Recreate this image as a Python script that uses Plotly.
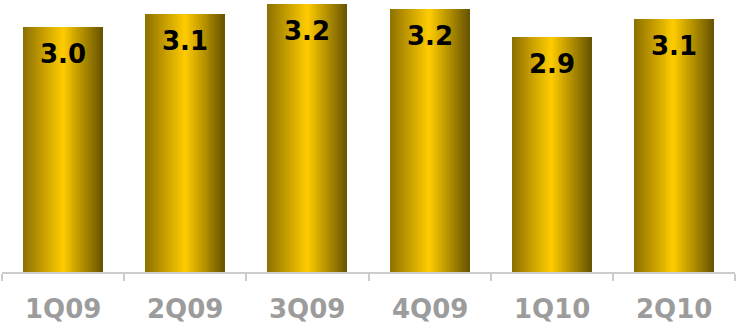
import plotly.graph_objects as go

# ---- data ----
quarters = ["1Q09", "2Q09", "3Q09", "4Q09", "1Q10", "2Q10"]
values = [2.99, 3.15, 3.27, 3.21, 2.87, 3.09]
labels = ["3.0", "3.1", "3.2", "3.2", "2.9", "3.1"]

# ---- style ----
BAR_W = 0.648
N_SLICES = 80
stops = [(0.0, (140, 112, 0)), (0.5, (255, 204, 0)), (1.0, (104, 84, 0))]


def grad(t):
    for (t0, c0), (t1, c1) in zip(stops[:-1], stops[1:]):
        if t0 <= t <= t1:
            f = (t - t0) / (t1 - t0)
            return "rgb(%d,%d,%d)" % tuple(round(a + (b - a) * f) for a, b in zip(c0, c1))
    return "rgb(%d,%d,%d)" % stops[-1][1]


fig = go.Figure()
step = BAR_W / N_SLICES
for i in range(N_SLICES):
    t = (i + 0.5) / N_SLICES
    w = step * (2 if i < N_SLICES - 1 else 1)
    fig.add_trace(go.Bar(
        x=quarters, y=values,
        offset=-BAR_W / 2 + i * step, width=w,
        marker=dict(color=grad(t), line=dict(width=0)),
        hoverinfo="skip", showlegend=False,
    ))

# value labels inside bars
for q, v, lab in zip(quarters, values, labels):
    fig.add_annotation(x=q, y=v, text=lab, showarrow=False, yanchor="middle",
                       yshift=-27,
                       font=dict(family="DejaVu Sans", size=26, color="#000000", weight="bold"))

# category labels under the axis
for q in quarters:
    fig.add_annotation(x=q, y=0, text=q, showarrow=False, yanchor="middle",
                       yshift=-37,
                       font=dict(family="DejaVu Sans", size=26, color="#9c9c9c", weight="bold"))

fig.update_layout(
    width=736, height=324,
    margin=dict(l=2, r=1, t=0, b=52),
    paper_bgcolor="white", plot_bgcolor="white",
    barmode="overlay", bargap=0,
)
fig.update_xaxes(
    type="category", showline=True, linecolor="#cccccc", linewidth=1.5,
    ticks="outside", tickson="boundaries", ticklen=7, tickcolor="#cccccc", tickwidth=1.5,
    showticklabels=False,
    showgrid=False, zeroline=False,
)
fig.update_yaxes(range=[0, 3.32], visible=False, showgrid=False, zeroline=False)

fig.write_html("out.html")
